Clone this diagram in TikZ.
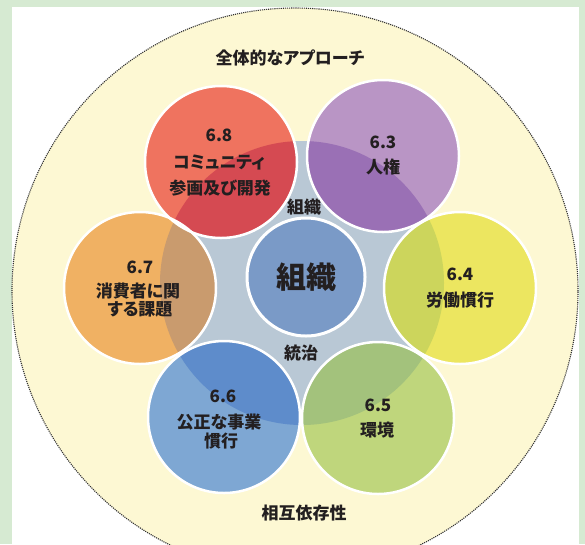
\documentclass[tikz,border=0pt]{standalone}
\usepackage{fontspec}
\newfontfamily\jp[RawFeature=+palt]{Noto Sans CJK JP}
\definecolor{bggreen}{HTML}{D6EAD2}
\definecolor{outerfill}{HTML}{FDF8D3}
\definecolor{starfill}{HTML}{B9C8D5}
\definecolor{cred}{HTML}{EF735F}
\definecolor{credd}{HTML}{D54A52}
\definecolor{cpurple}{HTML}{B995C5}
\definecolor{cpurpled}{HTML}{9A70B5}
\definecolor{cyellow}{HTML}{ECE660}
\definecolor{cyellowd}{HTML}{CCD55C}
\definecolor{cgreen}{HTML}{BFD67C}
\definecolor{cgreend}{HTML}{A3C27C}
\definecolor{cblue}{HTML}{7EA7D3}
\definecolor{cblued}{HTML}{5E8CCB}
\definecolor{corange}{HTML}{F0B163}
\definecolor{coranged}{HTML}{C99B6E}
\definecolor{ccenter}{HTML}{7A9AC7}
\definecolor{txt}{HTML}{231F20}
\begin{document}
\begin{tikzpicture}[x=1pt,y=-1pt,
  topic/.style={circle,inner sep=0pt,minimum size=152pt,draw=none},
  lbl/.style={inner sep=0pt,text=txt,font=\jp\bfseries\fontsize{17}{19}\selectfont},
  ring/.style={draw=white,line width=2.5pt}]
\useasboundingbox (0,0) rectangle (585,544);
\fill[bggreen] (0,0) rectangle (585,544);
\fill[white] (12,7) rectangle (579,544);
\begin{scope}
\clip (0,0) rectangle (585,544);
\node[circle,inner sep=0pt,minimum size=566pt,fill=outerfill,draw=black!80,densely dotted,line width=1.1pt] (whole) at (295,291) {};
\end{scope}
\node[circle,inner sep=0pt,minimum size=284pt,fill=starfill] (star) at (302,283) {};
% topic circles
\node[topic,fill=cred] (c68) at (221,162) {};
\node[topic,fill=cpurple] (c63) at (383,156) {};
\node[topic,fill=cyellow] (c64) at (460,288) {};
\node[topic,fill=cgreen] (c65) at (378,418) {};
\node[topic,fill=cblue] (c66) at (224,417) {};
\node[topic,fill=corange] (c67) at (140,288) {};
% darker overlaps with the central region
\begin{scope}
\clip (star.center) circle[radius=142];
\fill[credd] (c68.center) circle[radius=76];
\fill[cpurpled] (c63.center) circle[radius=76];
\fill[cyellowd] (c64.center) circle[radius=76];
\fill[cgreend] (c65.center) circle[radius=76];
\fill[cblued] (c66.center) circle[radius=76];
\fill[coranged] (c67.center) circle[radius=76];
\end{scope}
\foreach \n in {c68,c63,c64,c65,c66,c67}
  \draw[ring] (\n.center) circle[radius=76];
% central circle
\node[circle,inner sep=0pt,minimum size=118pt,fill=ccenter,draw=white,line width=3pt] (core) at (306,277) {};
% labels
\node[lbl] (tw) at (290,58) {全体的なアプローチ};
\node[lbl] (tb) at (304,513) {相互依存性};
\node[lbl] (to) at (304,207) {組織};
\node[lbl] (tg) at (301,353) {統治};
\node[lbl,font=\jp\bfseries\fontsize{30}{32}\selectfont] (tc) at (core.center) {組織};
\node[lbl] (n68) at (219,135) {6.8};
\node[lbl] (a68) at (219,163) {コミュニティ};
\node[lbl] (b68) at (220,188) {参画及び開発};
\node[lbl] (n63) at (383,142) {6.3};
\node[lbl] (a63) at (383,167) {人権};
\node[lbl] (n64) at (460,274) {6.4};
\node[lbl] (a64) at (460,300) {労働慣行};
\node[lbl] (n65) at (378,405) {6.5};
\node[lbl] (a65) at (377,430) {環境};
\node[lbl] (n66) at (223,396) {6.6};
\node[lbl] (a66) at (219,422) {公正な事業};
\node[lbl] (b66) at (221,441) {慣行};
\node[lbl] (n67) at (140,267) {6.7};
\node[lbl] (a67) at (138,291) {消費者に関};
\node[lbl] (b67) at (140,309) {する課題};
\end{tikzpicture}
\end{document}
